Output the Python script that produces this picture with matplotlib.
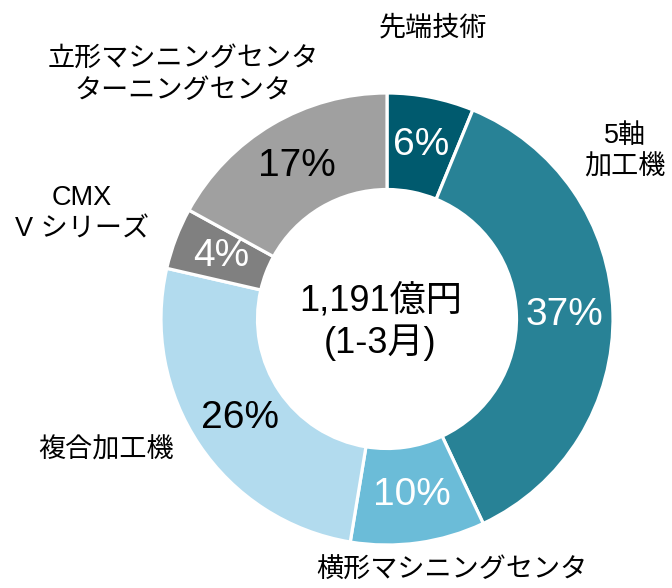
import matplotlib
matplotlib.use("Agg")
import matplotlib.pyplot as plt
import numpy as np

plt.rcParams['font.family'] = ['Liberation Sans', 'Noto Sans CJK JP', 'DejaVu Sans']

# ---- data ----
categories = ["先端技術", "5軸\n加工機", "横形マシニングセンタ", "複合加工機",
              "CMX\nV シリーズ", "立形マシニングセンタ\nターニングセンタ"]
values = [6.2, 36.8, 9.6, 26.0, 4.4, 17.0]
pct_labels = ["6%", "37%", "10%", "26%", "4%", "17%"]
center_label = "1,191億円\n(1-3月)"

# ---- style ----
colors = ["#005a6e", "#288296", "#6bbcd8", "#b2dbee", "#808080", "#a0a0a0"]
pct_colors = ["white", "white", "white", "black", "white", "black"]
# outer label positions (axes data units, radius = 1)
label_pos = [(0.204, 1.285), (1.053, 0.739), (0.288, -1.115), (-1.243, -0.580),
             (-1.35, 0.465), (-0.903, 1.08)]

W, H = 672, 588
cx, cy, R = 387, 319, 226
fig = plt.figure(figsize=(W / 100, H / 100), dpi=100)
ax = fig.add_axes([(cx - R) / W, (H - cy - R) / H, 2 * R / W, 2 * R / H])

wedges, _ = ax.pie(values, colors=colors, startangle=90, counterclock=False,
                   radius=1.0,
                   wedgeprops=dict(width=0.427, edgecolor="white", linewidth=2.3))
ax.set_xlim(-1, 1)
ax.set_ylim(-1, 1)
ax.set_aspect("equal")
ax.axis("off")

for w, lab, col in zip(wedges, pct_labels, pct_colors):
    ang = np.deg2rad((w.theta1 + w.theta2) / 2)
    r = 0.785
    ax.text(r * np.cos(ang), r * np.sin(ang), lab, ha="center", va="center",
            fontsize=28, color=col)

for (x, y), lab in zip(label_pos, categories):
    ax.text(x, y, lab, ha="center", va="center", fontsize=19.5, color="black",
            linespacing=1.3)

ax.text(-0.03, -0.015, center_label, ha="center", va="center", fontsize=26,
        color="black", linespacing=1.2)

fig.savefig("out.png", dpi=100)
